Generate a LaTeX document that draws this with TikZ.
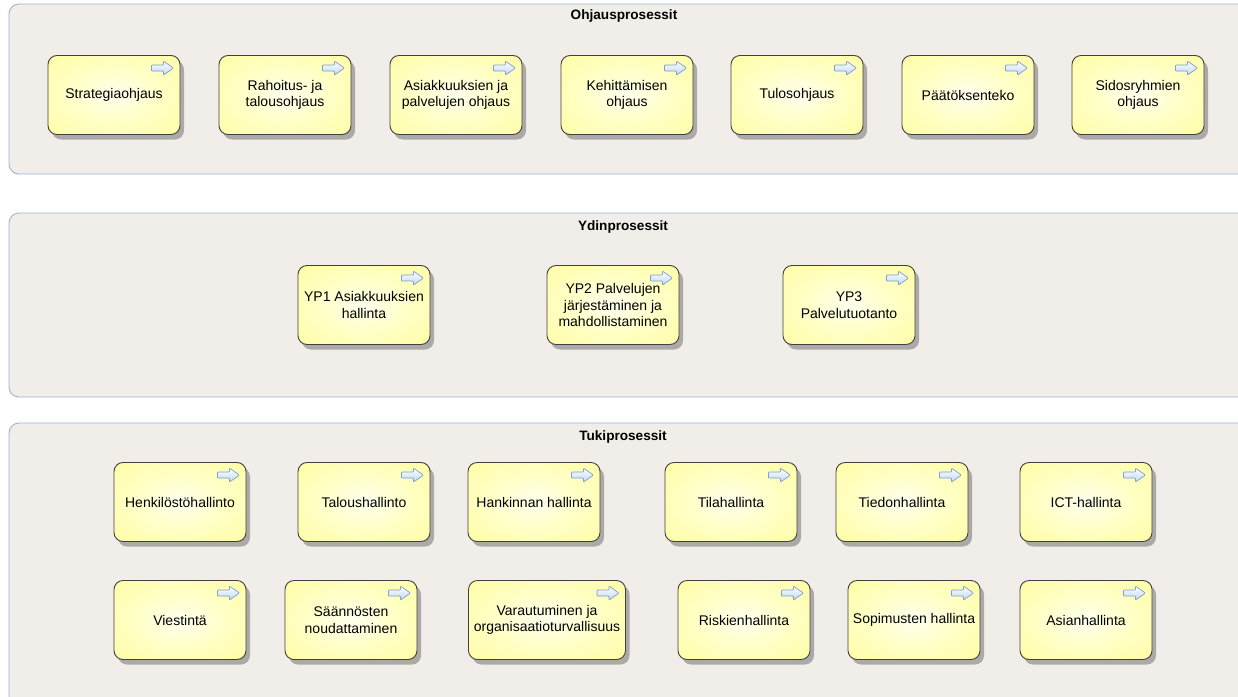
\documentclass[tikz,border=0pt]{standalone}
\usepackage{fontspec}
\setmainfont{Liberation Sans}
\usepackage{xcolor}
\usetikzlibrary{calc,shadows}
\definecolor{grpfill}{HTML}{F1EEE9}
\definecolor{grpline}{HTML}{9BB4D8}
\definecolor{procmid}{HTML}{FFFFC4}
\definecolor{procout}{HTML}{FFFC96}
\definecolor{iconfill}{HTML}{BFD9F6}
\definecolor{iconline}{HTML}{7E9FC9}
\pgfdeclareradialshading{procshade}{\pgfpoint{0bp}{0bp}}{%
  color(0bp)=(white!70!procmid); color(18bp)=(procmid);
  color(45bp)=(procout); color(80bp)=(procout)}
\tikzset{
  grp/.style={draw=grpline,fill=grpfill,rounded corners=10pt,line width=0.9pt,
              inner sep=0pt},                     % prosessiryhmä
  ttl/.style={font=\bfseries\fontsize{13.6}{15}\selectfont,inner sep=1pt},
  proc/.style={draw=black!75,line width=0.9pt,rounded corners=9pt,
               minimum width=132pt,minimum height=79pt,align=center,
               inner sep=2pt,font=\fontsize{14}{16.5}\selectfont,
               shading=procshade,
               drop shadow={shadow xshift=4pt,shadow yshift=-5pt,
                            fill=black!55,opacity=0.55}},
  icon/.style={draw=iconline,line width=0.7pt,rounded corners=0.8pt,
               top color=white,bottom color=iconfill}
}
% pieni nuoli prosessilaatikon oikeaan yläkulmaan
\newcommand{\procicon}[1]{%
  \draw[icon] ($(#1.north east)+(-29,10)$) -- ++(12,0) -- ++(0,-4) -- ++(10,7)
    -- ++(-10,7) -- ++(0,-4) -- ++(-12,0) -- cycle;}

\begin{document}
\begin{tikzpicture}[x=1pt,y=-1pt]
  \useasboundingbox[fill=white] (0,0) rectangle (1238,696);
  % ryhmät
  \node[grp,minimum width=1241pt,minimum height=170pt] (ohj) at (629.5,89) {};
  \node[grp,minimum width=1241pt,minimum height=184pt] (ydin) at (629.5,305) {};
  \node[grp,minimum width=1241pt,minimum height=287pt] (tuki) at (629.5,566.5) {};
  \node[ttl] (ohjt) at (624,16) {Ohjausprosessit};
  \node[ttl] (ydint) at (623,227) {Ydinprosessit};
  \node[ttl] (tukit) at (623,437) {Tukiprosessit};
  % ohjausprosessit
  \node[proc] (strat) at (114,95) {Strategiaohjaus};
  \node[proc] (rahoit) at (285,95) {Rahoitus- ja\\talousohjaus};
  \node[proc] (asiak) at (456,95) {Asiakkuuksien ja\\palvelujen ohjaus};
  \node[proc] (kehit) at (627,95) {Kehittämisen\\ohjaus};
  \node[proc] (tulos) at (797,95) {Tulosohjaus};
  \node[proc] (paat) at (968,95) {Päätöksenteko};
  \node[proc] (sidos) at (1138,95) {Sidosryhmien\\ohjaus};
  % ydinprosessit
  \node[proc] (yp1) at (364,305) {YP1 Asiakkuuksien\\hallinta};
  \node[proc] (yp2) at (613,305) {YP2 Palvelujen\\järjestäminen ja\\mahdollistaminen};
  \node[proc] (yp3) at (849,305) {YP3\\Palvelutuotanto};
  % tukiprosessit
  \node[proc] (henk) at (180,502) {Henkilöstöhallinto};
  \node[proc] (talous) at (364,502) {Taloushallinto};
  \node[proc] (hank) at (534,502) {Hankinnan hallinta};
  \node[proc] (tila) at (731,502) {Tilahallinta};
  \node[proc] (tieto) at (902,502) {Tiedonhallinta};
  \node[proc] (ict) at (1086,502) {ICT-hallinta};
  \node[proc] (viest) at (180,620) {Viestintä};
  \node[proc] (saan) at (351,620) {Säännösten\\noudattaminen};
  \node[proc,minimum width=157pt] (varau) at (547,620) {Varautuminen ja\\organisaatioturvallisuus};
  \node[proc] (riski) at (744,620) {Riskienhallinta};
  \node[proc] (sopim) at (914,620) {Sopimusten hallinta};
  \node[proc] (asian) at (1086,620) {Asianhallinta};
  \foreach \n in {strat,rahoit,asiak,kehit,tulos,paat,sidos,yp1,yp2,yp3,
                  henk,talous,hank,tila,tieto,ict,viest,saan,varau,riski,sopim,asian}
    {\procicon{\n}}
\end{tikzpicture}
\end{document}
